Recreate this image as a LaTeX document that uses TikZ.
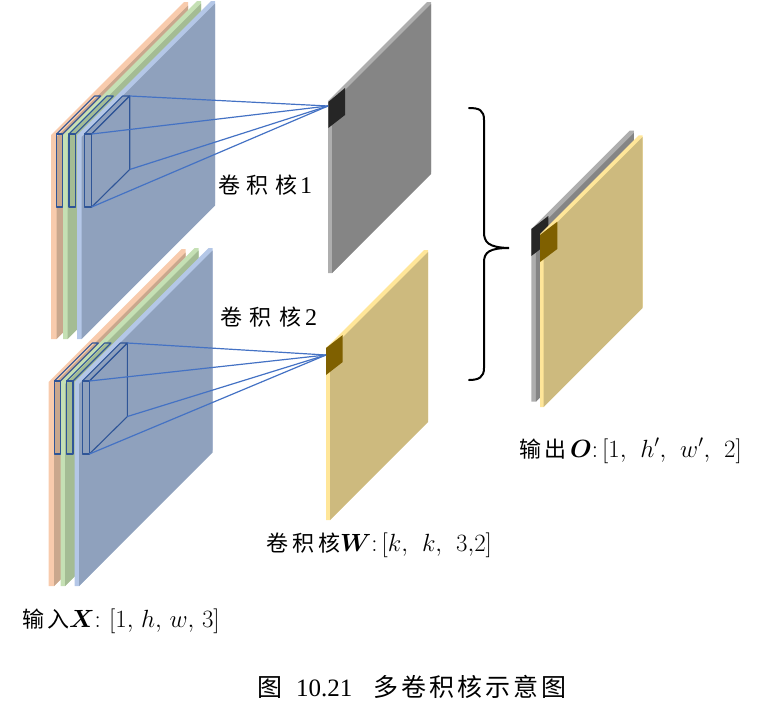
\documentclass[tikz,border=0pt]{standalone}
\usepackage{amsmath}
\usepackage{fontspec}
\newfontfamily\cjk{Noto Sans CJK SC}
\setmainfont{Liberation Serif}
\definecolor{oS}{HTML}{F8CBAD}\definecolor{oF}{HTML}{C9A78D}
\definecolor{gS}{HTML}{C5E0B4}\definecolor{gF}{HTML}{A4BC94}
\definecolor{bS}{HTML}{B4C7E7}\definecolor{bF}{HTML}{8FA1BD}
\definecolor{kS}{HTML}{AEAEAE}\definecolor{kF}{HTML}{858585}
\definecolor{yS}{HTML}{FFE699}\definecolor{yF}{HTML}{CDBA7E}
\definecolor{cubeC}{HTML}{2F5597}\definecolor{rayC}{HTML}{4472C4}
\definecolor{kerK}{HTML}{262626}\definecolor{kerY}{HTML}{7F6000}
% #1,#2 top-left; #3 strip width; #4 strip colour; #5 face colour; #6 x span; #7 height
\newcommand{\sheetp}[7]{%
 \fill[#4] (#1,#2) -- ++(#6-4,-#6+4) -- ++(4,0) -- ++(0,#7-2) -- (#1+#3,#2+#7) -- (#1,#2+#7) -- cycle;
 \fill[#5] (#1+#3,#2+2) -- ++(#6-#3,-#6+#3) -- ++(0,#7-2) -- ++(-#6+#3,#6-#3) -- cycle;}
\newcommand{\cuberect}[2]{%
 \draw[cubelin] (#1,134) rectangle (#1+#2,207);
 \draw[cubelin] (#1,134) -- ++(38,-38) -- ++(#2,0) -- (#1+#2,134);}
\newcommand{\cn}[1]{{\cjk\fontsize{22}{24}\selectfont #1}}
\tikzset{cubelin/.style={draw=cubeC,line width=1.1pt,line join=round},
 raylin/.style={draw=rayC,line width=1.2pt},
 lab/.style={anchor=base west,inner sep=0pt,font=\fontsize{24}{28}\selectfont},
 capt/.style={anchor=base west,inner sep=0pt,font=\fontsize{25}{28}\selectfont}}
\newcommand{\inputstack}{%
 \sheetp{51}{135}{5.5}{oS}{oF}{137}{204}
 \sheetp{63}{135}{4.5}{gS}{gF}{138}{204}
 \sheetp{77}{135}{4.5}{bS}{bF}{138}{204}
 \cuberect{56.7}{6}
 \cuberect{69}{6.3}
 \cuberect{84.7}{7}
 \draw[cubelin] (91.7,134) -- (129.7,96) -- (129.7,169.5) -- (91.7,207);
}
\newcommand{\cc}{,\mskip7mu}
\newcommand{\cd}{,\mskip2.5mu}
\begin{document}
\begin{tikzpicture}[x=1pt,y=-1pt]
\useasboundingbox (0,0) rectangle (768,716);
\sheetp{328}{101}{4}{kS}{kF}{103}{172}
\fill[kerK] (328.3,102) -- (345,88) -- (345,115) -- (328.3,128) -- cycle;
\sheetp{326}{348}{4}{yS}{yF}{102}{172}
\fill[kerY] (326,348) -- (342.7,335) -- (342.7,362) -- (326,375) -- cycle;
\begin{scope}
\inputstack
\coordinate (t1) at (129.7,96); \coordinate (t2) at (91.7,134);
\coordinate (t3) at (129.7,169.5); \coordinate (t4) at (91.7,207);
\end{scope}
\begin{scope}[shift={(-2.3,247)}]
\inputstack
\coordinate (u1) at (129.7,96); \coordinate (u2) at (91.7,134);
\coordinate (u3) at (129.7,169.5); \coordinate (u4) at (91.7,207);
\end{scope}
\coordinate (k1) at (328,106);
\coordinate (k2) at (326,355);
\foreach \p in {t1,t2,t3,t4} \draw[raylin] (\p) -- (k1);
\foreach \p in {u1,u2,u3,u4} \draw[raylin] (\p) -- (k2);
\sheetp{531.3}{229}{4.5}{kS}{kF}{102.5}{172.7}
\fill[kerK] (531.3,229) -- (548.3,216) -- (548.3,243) -- (531.3,256) -- cycle;
\sheetp{540}{234}{3.5}{yS}{yF}{102.7}{173}
\fill[kerY] (540,235) -- (557.3,221.7) -- (557.3,249) -- (540,262) -- cycle;
\coordinate (bt) at (469,108); \coordinate (bb) at (469,380); \coordinate (bm) at (509,248);
\draw[line width=2pt,line cap=round] (bt) .. controls (479,108) and (484,110) .. (484,120) -- (484,232)
  .. controls (484,242) and (488,247.5) .. (bm)
  .. controls (490,248) and (484,252) .. (484,262) -- (484,368) .. controls (484,377) and (479,380) .. (bb);
\node[lab] (l1) at (218,193) {\cn{卷}\hspace{6.5pt}\cn{积}\hspace{6.5pt}\cn{核}\hspace{3pt}1};
\node[lab] (l2) at (220,325) {\cn{卷}\hspace{7.5pt}\cn{积}\hspace{7.5pt}\cn{核}\hspace{4pt}2};
\node[lab] (l3) at (266,551) {\cn{卷}\hspace{4pt}\cn{积}\hspace{4pt}\cn{核}$\boldsymbol{W}{:}\,[k\cc k\cc 3{,}2]$};
\node[lab] (l4) at (22,627) {\cn{输}\hspace{3pt}\cn{入}$\boldsymbol{X}{:}\,\,[1\cd h\cd w\cd 3]$};
\node[lab] (l5) at (519,457) {\cn{输}\hspace{3pt}\cn{出}\hspace{4pt}$\boldsymbol{O}{:}\,[1\cc h'\cc w'\cc 2]$};
\node[capt] (l6) at (257,696) {{\cjk 图}\hspace{14pt}10.21\hspace{21pt}{\cjk\addfontfeature{LetterSpace=12} 多卷积核示意图}};
\end{tikzpicture}
\end{document}
